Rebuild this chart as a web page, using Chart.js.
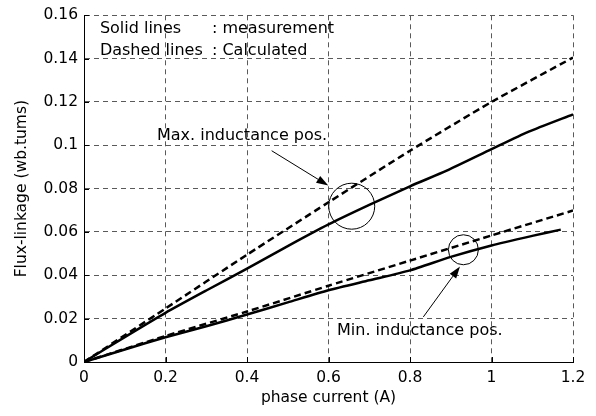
<!DOCTYPE html>
<html>
<head>
<meta charset="utf-8">
<script src="https://cdn.jsdelivr.net/npm/chart.js@4/dist/chart.umd.min.js"></script>
<style>
  html, body { margin: 0; padding: 0; background: #fff; }
  #chart { display: block; }
</style>
</head>
<body>
<canvas id="chart" width="596" height="416"></canvas>
<script>
// 数据
const maxCalcX = [0, 0.2, 0.4, 0.6, 0.8, 1.0, 1.2];
const maxCalcY = [0, 0.0247, 0.0495, 0.0737, 0.0975, 0.1200, 0.1405];

const maxMeasX = [0, 0.1, 0.2, 0.3, 0.4, 0.5, 0.6, 0.7, 0.8, 0.89, 1.0, 1.09, 1.2];
const maxMeasY = [0, 0.0115, 0.0227, 0.0330, 0.0431, 0.0535, 0.0635, 0.0725, 0.0811, 0.0883, 0.0982, 0.1062, 0.1143];

const minCalcX = [0, 0.2, 0.4, 0.6, 0.8, 1.0, 1.2];
const minCalcY = [0, 0.0120, 0.0233, 0.0352, 0.0468, 0.0584, 0.0699];

const minMeasX = [0, 0.1, 0.2, 0.3, 0.4, 0.5, 0.6, 0.7, 0.8, 0.9, 1.0, 1.1, 1.17];
const minMeasY = [0, 0.0058, 0.0114, 0.0165, 0.0219, 0.0275, 0.0331, 0.0377, 0.0423, 0.0485, 0.0538, 0.0582, 0.0611];

const xTicks = [0, 0.2, 0.4, 0.6, 0.8, 1, 1.2];
const yTicks = [0, 0.02, 0.04, 0.06, 0.08, 0.1, 0.12, 0.14, 0.16];

const FONT = 'DejaVu Sans';
const toPoints = (xs, ys) => xs.map((x, i) => ({ x: x, y: ys[i] }));
const fmt = v => String(+v.toFixed(2));

// 内向刻度 + 注释文字/箭头/圆圈
const decorations = {
    id: 'decorations',
    afterDraw(chart) {
        const ctx = chart.ctx;
        const xs = chart.scales.x, ys = chart.scales.y;
        const area = chart.chartArea;
        const px = v => xs.getPixelForValue(v);
        const py = v => ys.getPixelForValue(v);

        ctx.save();
        ctx.strokeStyle = '#000';
        ctx.lineWidth = 1;
        ctx.beginPath();
        xTicks.forEach(t => {
            const x = Math.round(px(t)) + 0.5;
            ctx.moveTo(x, area.bottom);
            ctx.lineTo(x, area.bottom - 5);
        });
        yTicks.forEach(t => {
            const y = Math.round(py(t)) + 0.5;
            ctx.moveTo(area.left, y);
            ctx.lineTo(area.left + 5, y);
        });
        ctx.stroke();

        // 文字
        ctx.fillStyle = '#000';
        ctx.font = '16px "' + FONT + '"';
        ctx.textBaseline = 'middle';
        ctx.textAlign = 'left';
        ctx.fillText('Solid lines', px(0.039), py(0.1536));
        ctx.fillText(': measurement', px(0.314), py(0.1536));
        ctx.fillText('Dashed lines', px(0.039), py(0.1434));
        ctx.fillText(': Calculated', px(0.314), py(0.1434));
        ctx.fillText('Max. inductance pos.', px(0.179), py(0.1044));
        ctx.fillText('Min. inductance pos.', px(0.621), py(0.0143));

        // 圆圈
        ctx.lineWidth = 1;
        ctx.beginPath();
        ctx.arc(px(0.657), py(0.0719), 23, 0, Math.PI * 2);
        ctx.stroke();
        ctx.beginPath();
        ctx.arc(px(0.931), py(0.0518), 15, 0, Math.PI * 2);
        ctx.stroke();

        // 箭头
        const arrow = (x0, y0, x1, y1) => {
            const ax = px(x0), ay = py(y0), bx = px(x1), by = py(y1);
            const ang = Math.atan2(by - ay, bx - ax);
            const len = 12, half = 4;
            const cx = bx - len * Math.cos(ang), cy = by - len * Math.sin(ang);
            ctx.beginPath();
            ctx.moveTo(ax, ay);
            ctx.lineTo(cx, cy);
            ctx.stroke();
            ctx.beginPath();
            ctx.moveTo(bx, by);
            ctx.lineTo(cx + half * Math.sin(ang), cy - half * Math.cos(ang));
            ctx.lineTo(cx - half * Math.sin(ang), cy + half * Math.cos(ang));
            ctx.closePath();
            ctx.fill();
        };
        arrow(0.4605, 0.0975, 0.5995, 0.0814);
        arrow(0.8327, 0.0208, 0.9227, 0.0441);
        ctx.restore();
    }
};

const lineStyle = (dashed) => ({
    showLine: true,
    borderColor: '#000',
    backgroundColor: '#000',
    borderWidth: 2.5,
    borderDash: dashed ? [7, 4] : [],
    pointRadius: 0,
    tension: 0.2,
    fill: false
});

const axisFont = { family: FONT, size: 15.5 };

const fluxChart = new Chart(document.getElementById('chart'), {
    type: 'scatter',
    data: {
        datasets: [
            { label: 'Max calc', data: toPoints(maxCalcX, maxCalcY), ...lineStyle(true) },
            { label: 'Max meas', data: toPoints(maxMeasX, maxMeasY), ...lineStyle(false) },
            { label: 'Min calc', data: toPoints(minCalcX, minCalcY), ...lineStyle(true) },
            { label: 'Min meas', data: toPoints(minMeasX, minMeasY), ...lineStyle(false) }
        ]
    },
    options: {
        responsive: false,
        animation: false,
        layout: { padding: { left: 0, right: 23, top: 14, bottom: 0 } },
        plugins: {
            legend: { display: false },
            tooltip: { enabled: false }
        },
        scales: {
            x: {
                type: 'linear',
                min: 0,
                max: 1.2,
                afterBuildTicks: s => { s.ticks = xTicks.map(v => ({ value: v })); },
                afterFit: s => { s.height = 54; },
                ticks: {
                    color: '#000',
                    padding: 7,
                    maxRotation: 0,
                    font: axisFont,
                    callback: v => fmt(v)
                },
                grid: {
                    color: '#5a5a5a',
                    lineWidth: 1,
                    drawTicks: false
                },
                border: { display: true, color: '#000', width: 1, dash: [5, 4] },
                title: {
                    display: true,
                    text: 'phase current (A)',
                    color: '#000',
                    font: axisFont,
                    padding: { top: 0, bottom: 9 }
                }
            },
            y: {
                type: 'linear',
                min: 0,
                max: 0.16,
                afterBuildTicks: s => { s.ticks = yTicks.map(v => ({ value: v })); },
                afterFit: s => { s.width = 84; },
                ticks: {
                    color: '#000',
                    padding: 6,
                    font: axisFont,
                    callback: v => fmt(v)
                },
                grid: {
                    color: '#5a5a5a',
                    lineWidth: 1,
                    drawTicks: false
                },
                border: { display: true, color: '#000', width: 1, dash: [5, 4] },
                title: {
                    display: true,
                    text: 'Flux-linkage (wb.tums)',
                    color: '#000',
                    font: axisFont,
                    padding: { top: 13, bottom: 0 }
                }
            }
        }
    },
    plugins: [decorations]
});
</script>
</body>
</html>
